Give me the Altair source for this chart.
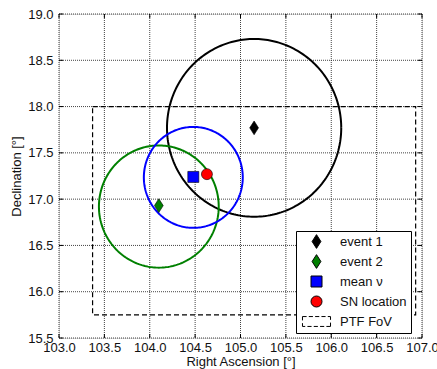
import altair as alt
import numpy as np
import pandas as pd

# ---- data ----
labels = ["event 1", "event 2", "mean ν", "SN location", "PTF FoV"]
point_labels = ["event 1", "event 2", "mean ν", "SN location"]
point_ra = [105.15, 104.10, 104.48, 104.63]
point_dec = [17.77, 16.93, 17.24, 17.27]

circle_names = ["event 1", "event 2", "mean ν"]
circle_ra = [105.15, 104.10, 104.48]
circle_dec = [17.77, 16.92, 17.235]
circle_radius = [0.96, 0.66, 0.545]
circle_colors = ["#000000", "#008000", "#0000ff"]

fov_ra = [103.37, 106.93]
fov_dec = [15.75, 18.0]

x_ticks = [103.0, 103.5, 104.0, 104.5, 105.0, 105.5, 106.0, 106.5, 107.0]
y_ticks = [15.5, 16.0, 16.5, 17.0, 17.5, 18.0, 18.5, 19.0]

marker_colors = ["#000000", "#008000", "#0000ff", "#ff0000", "#000000"]
diamond = "M0,-1.25L0.8,0L0,1.25L-0.8,0Z"
dashed_box = ("M-2.55,-0.9H-1.8M-1.4,-0.9H-0.65M-0.25,-0.9H0.5M0.9,-0.9H1.65M2.05,-0.9H2.55"
              "M2.55,-0.9V-0.3M2.55,0.2V0.9"
              "M2.55,0.9H1.8M1.4,0.9H0.65M0.25,0.9H-0.5M-0.9,0.9H-1.65M-2.05,0.9H-2.55"
              "M-2.55,0.9V0.3M-2.55,-0.2V-0.9")
marker_shapes = [diamond, diamond, "square", "circle", dashed_box]

FONT = "Liberation Sans"
W, H = 363, 324

xscale = alt.Scale(domain=[103.0, 107.0], nice=False, zero=False)
yscale = alt.Scale(domain=[15.5, 19.0], nice=False, zero=False)

xaxis = alt.Axis(values=x_ticks, format=".1f", title="Right Ascension [°]",
                 grid=False, ticks=False, domain=False, labelPadding=3,
                 labelFlush=False, labelOverlap=False,
                 labelFontSize=13, labelFont=FONT, labelColor="#111",
                 titleFont=FONT, titleFontSize=13, titleFontWeight="normal",
                 titleColor="#111", titleY=23, titleBaseline="middle")
yaxis = alt.Axis(values=y_ticks, format=".1f", title="Declination [°]",
                 grid=False, ticks=False, domain=False, labelPadding=6,
                 labelFlush=False, labelOverlap=False,
                 labelFontSize=13, labelFont=FONT, labelColor="#111",
                 titleFont=FONT, titleFontSize=13, titleFontWeight="normal",
                 titleColor="#111", titleX=-43, titleBaseline="middle")

layers = []

# dotted grid from the tick values
gx = pd.DataFrame({"v": x_ticks})
gy = pd.DataFrame({"v": y_ticks})
layers.append(alt.Chart(gx).mark_rule(color="#222", strokeWidth=1, strokeDash=[1, 1], opacity=0.85).encode(
    x=alt.X("v:Q", scale=xscale, axis=xaxis)))
layers.append(alt.Chart(gy).mark_rule(color="#222", strokeWidth=1, strokeDash=[1, 1], opacity=0.85).encode(
    y=alt.Y("v:Q", scale=yscale, axis=yaxis)))
# inward ticks on all four sides
for y0, y1 in [(H, H - 4), (0, 4)]:
    layers.append(alt.Chart(gx).mark_rule(color="black", strokeWidth=1).encode(
        x=alt.X("v:Q", scale=xscale, axis=xaxis), y=alt.value(y0), y2=alt.value(y1)))
for x0, x1 in [(0, 4), (W, W - 4)]:
    layers.append(alt.Chart(gy).mark_rule(color="black", strokeWidth=1).encode(
        y=alt.Y("v:Q", scale=yscale, axis=yaxis), x=alt.value(x0), x2=alt.value(x1)))

fov = pd.DataFrame({"ra1": [fov_ra[0]], "ra2": [fov_ra[1]], "dec1": [fov_dec[0]], "dec2": [fov_dec[1]]})
layers.append(
    alt.Chart(fov).mark_rect(filled=False, stroke="black", strokeWidth=1.2, strokeDash=[5, 3]).encode(
        x=alt.X("ra1:Q", scale=xscale, axis=xaxis), x2="ra2:Q",
        y=alt.Y("dec1:Q", scale=yscale, axis=yaxis), y2="dec2:Q",
    )
)

# circles drawn from centre and radius
t = np.linspace(0, 2 * np.pi, 241)
for name, cx, cy, r, col in zip(circle_names, circle_ra, circle_dec, circle_radius, circle_colors):
    cdf = pd.DataFrame({"ra": cx + r * np.cos(t), "dec": cy + r * np.sin(t), "i": np.arange(len(t))})
    layers.append(
        alt.Chart(cdf).mark_line(color=col, strokeWidth=2).encode(
            x=alt.X("ra:Q", scale=xscale, axis=xaxis),
            y=alt.Y("dec:Q", scale=yscale, axis=yaxis),
            order="i:Q",
        )
    )

pts = pd.DataFrame({"label": point_labels, "ra": point_ra, "dec": point_dec})
legend = alt.Legend(
    title=None, orient="none", legendX=237, legendY=217,
    fillColor="white", strokeColor="black", padding=4,
    symbolSize=121, symbolOffset=10, labelOffset=17, rowPadding=1, gridAlign="all",
    symbolStrokeColor="black", symbolStrokeWidth=1,
    labelFont=FONT, labelFontSize=13, labelColor="#111",
)
layers.append(
    alt.Chart(pts).mark_point(filled=True, size=121, stroke="black", strokeWidth=0.6, opacity=1).encode(
        x=alt.X("ra:Q", scale=xscale, axis=xaxis),
        y=alt.Y("dec:Q", scale=yscale, axis=yaxis),
        color=alt.Color("label:N", scale=alt.Scale(domain=labels, range=marker_colors), legend=legend),
        shape=alt.Shape("label:N", scale=alt.Scale(domain=labels, range=marker_shapes), legend=legend),
    )
)

chart = alt.layer(*layers).properties(
    width=W, height=H,
    autosize=alt.AutoSizeParams(type="none"),
    padding={"left": 59, "top": 14, "right": 15, "bottom": 31},
).configure_view(stroke="black", strokeWidth=1.2).configure(background="white")

chart.save("out.html", embed_options={"renderer": "svg", "actions": False})
